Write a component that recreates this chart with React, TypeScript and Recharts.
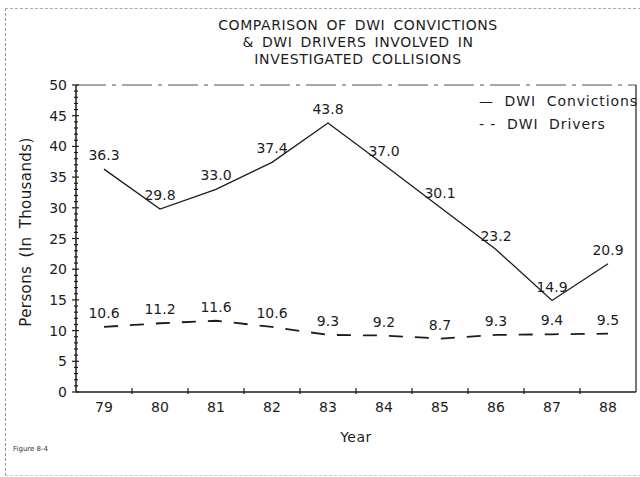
import React from 'react';
import { LineChart, Line, XAxis, YAxis, ReferenceLine, LabelList } from 'recharts';

const years = ['79', '80', '81', '82', '83', '84', '85', '86', '87', '88'];
const convictions = [36.3, 29.8, 33.0, 37.4, 43.8, 37.0, 30.1, 23.2, 14.9, 20.9];
const drivers = [10.6, 11.2, 11.6, 10.6, 9.3, 9.2, 8.7, 9.3, 9.4, 9.5];
const majorTicks = [0, 5, 10, 15, 20, 25, 30, 35, 40, 45, 50];
const allTicks = Array.from({ length: 51 }, (_, i) => i);
const titleLines = ['COMPARISON OF DWI CONVICTIONS', '& DWI DRIVERS INVOLVED IN', 'INVESTIGATED COLLISIONS'];

const data = years.map((y, i) => ({ year: y, conv: convictions[i], drv: drivers[i] }));

const FONT = '"DejaVu Sans", sans-serif';
const INK = '#1c1c1c';
const HALF_BAND = 28;

const YTick = (props: any) => {
  const { x, y, payload } = props;
  const major = majorTicks.includes(payload.value);
  return (
    <g>
      <line x1={x - (major ? 4 : 2)} x2={x + (major ? 3 : 2)} y1={y} y2={y} stroke={INK} strokeWidth={1.2} />
      {major && (
        <text x={x - 9} y={y} dy={5} textAnchor="end" fontSize={14} fill={INK} fontFamily={FONT}>
          {payload.value}
        </text>
      )}
    </g>
  );
};

const XTick = (props: any) => {
  const { x, y, payload, index } = props;
  return (
    <g>
      {index > 0 && <line x1={x - HALF_BAND} x2={x - HALF_BAND} y1={y - 4} y2={y + 2} stroke={INK} strokeWidth={1.2} />}
      <text x={x} y={y + 20} textAnchor="middle" fontSize={14} fill={INK} fontFamily={FONT}>
        {payload.value}
      </text>
    </g>
  );
};

export default function App() {
  return (
    <div style={{ position: 'absolute', left: 0, top: 0, width: 640, height: 477, background: '#fff', fontFamily: FONT, overflow: 'hidden' }}>
      <div style={{ position: 'absolute', left: 5, top: 8, width: 640, height: 466, borderLeft: '1px dashed #999', borderTop: '1px dashed #aaa', borderBottom: '1px dashed #ccc' }} />
      <div style={{ position: 'absolute', left: 0, top: 17, width: 716, textAlign: 'center', fontSize: 14, lineHeight: '17px', letterSpacing: 0.6, wordSpacing: 3, color: INK }}>
        {titleLines.map((t) => (
          <div key={t}>{t}</div>
        ))}
      </div>
      <div style={{ position: 'absolute', left: 26, top: 232, transform: 'translate(-50%, -50%) rotate(-90deg)', whiteSpace: 'nowrap', fontSize: 15, letterSpacing: 0.4, wordSpacing: 3, color: INK }}>
        Persons (In Thousands)
      </div>
      <div style={{ position: 'absolute', left: 356, top: 429, transform: 'translateX(-50%)', fontSize: 14, letterSpacing: 0.5, color: INK }}>Year</div>
      <div style={{ position: 'absolute', left: 13, top: 445, fontSize: 7, color: '#333' }}>Figure 8-4</div>
      <div style={{ position: 'absolute', left: 479, top: 90, fontSize: 14, color: INK, lineHeight: '23px', letterSpacing: 0.9, whiteSpace: 'pre' }}>
        <div>{'—  DWI  Convictions'}</div>
        <div>{'- -  DWI  Drivers'}</div>
      </div>
      <LineChart
        width={640}
        height={477}
        data={data}
        margin={{ top: 85, right: 2, bottom: 0, left: 0 }}
        style={{ position: 'absolute', left: 0, top: 0 }}
      >
        <XAxis
          dataKey="year"
          padding={{ left: HALF_BAND, right: HALF_BAND }}
          height={85}
          tickSize={0}
          tickMargin={0}
          tickLine={false}
          axisLine={{ stroke: INK, strokeWidth: 1.5 }}
          tick={<XTick />}
          interval={0}
        />
        <YAxis
          domain={[0, 50]}
          ticks={allTicks}
          interval={0}
          width={76}
          tickSize={0}
          tickMargin={0}
          tickLine={false}
          axisLine={{ stroke: INK, strokeWidth: 1.5 }}
          tick={<YTick />}
        />
        <YAxis yAxisId="right" orientation="right" domain={[0, 50]} width={2} tick={false} tickLine={false} axisLine={{ stroke: INK, strokeWidth: 1.2 }} />
        <ReferenceLine y={50} stroke="#555" strokeWidth={1.2} strokeDasharray="30 6 4 6" />
        <Line
          dataKey="conv"
          stroke={INK}
          strokeWidth={1.3}
          dot={false}
          isAnimationActive={false}
        >
          <LabelList dataKey="conv" position="top" offset={9} fontSize={14} fill={INK} fontFamily={FONT} formatter={(v: any) => Number(v).toFixed(1)} />
        </Line>
        <Line
          dataKey="drv"
          stroke={INK}
          strokeWidth={1.8}
          strokeDasharray="14 12"
          dot={false}
          isAnimationActive={false}
        >
          <LabelList dataKey="drv" position="top" offset={9} fontSize={14} fill={INK} fontFamily={FONT} formatter={(v: any) => Number(v).toFixed(1)} />
        </Line>
      </LineChart>
    </div>
  );
}
